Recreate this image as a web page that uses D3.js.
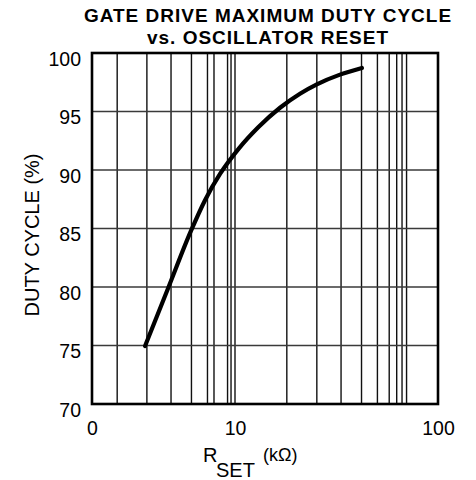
<!DOCTYPE html>
<html>
<head>
<meta charset="utf-8">
<script src="https://cdn.jsdelivr.net/npm/d3@7"></script>
<style>
  html, body { margin: 0; padding: 0; background: #fff; }
  svg { display: block; font-family: "Liberation Sans", Arial, Helvetica, sans-serif; }
</style>
</head>
<body>
<svg id="chart" width="476" height="480"></svg>
<script>
// ---- data ----
const rsetKOhm  = [2.35, 3.40, 4.92, 6.17, 7.86, 10.46, 12.98, 16.66, 20.9, 25.3, 32.9, 42.2];
const dutyCycle = [74.96, 79.87, 84.79, 87.42, 89.66, 91.85, 93.63, 95.32, 96.52, 97.32, 98.15, 98.72];
const xTickValues = [1, 10, 100];
const xTickLabels = ["0", "10", "100"];
const yTickValues = [70, 75, 80, 85, 90, 95, 100];
const xGridValues = [1.5, 2.42, 3.57, 4.96, 6.42, 7.13, 8.87, 9.38, 10,
                     18.0, 25.3, 33.3, 42.0, 50.3, 57.5, 62.6, 66.5, 70.0];
const yGridValues = [75, 80, 85, 90, 95];
const titleLines = ["GATE DRIVE MAXIMUM DUTY CYCLE", "vs. OSCILLATOR RESET"];
const yLabel = "DUTY CYCLE (%)";

// ---- layout ----
const L = 92, R = 438, T = 53, B = 404;
const svg = d3.select("#chart");

const x = d3.scaleLog().domain([1, 10, 100]).range([L, 235, R]);
const y = d3.scaleLinear().domain([70, 100]).range([B, T]);

// grid
svg.append("g").selectAll("line").data(xGridValues).join("line")
  .attr("x1", d => x(d)).attr("x2", d => x(d))
  .attr("y1", T).attr("y2", B)
  .attr("stroke", "#111").attr("stroke-width", 1.4);
svg.append("g").selectAll("line").data(yGridValues).join("line")
  .attr("x1", L).attr("x2", R)
  .attr("y1", d => y(d)).attr("y2", d => y(d))
  .attr("stroke", "#3a3a3a").attr("stroke-width", 1.6);

// border
svg.append("rect").attr("x", L).attr("y", T).attr("width", R - L).attr("height", B - T)
  .attr("fill", "none").attr("stroke", "#000").attr("stroke-width", 2.6);

// curve
const line = d3.line().x((d, i) => x(rsetKOhm[i])).y(d => y(d)).curve(d3.curveMonotoneX);
svg.append("path").datum(dutyCycle).attr("d", line)
  .attr("fill", "none").attr("stroke", "#000").attr("stroke-width", 4.2)
  .attr("stroke-linecap", "round").attr("stroke-linejoin", "round");

// axes (labels only)
const xAxis = svg.append("g").attr("transform", `translate(0,${B})`)
  .call(d3.axisBottom(x).tickValues(xTickValues).tickFormat((d, i) => xTickLabels[i]).tickSize(0));
xAxis.select(".domain").remove();
xAxis.selectAll("text").attr("y", 31).attr("dy", 0)
  .style("font-size", "19.5px").style("font-family", "Liberation Sans, Arial, sans-serif").attr("fill", "#000");

const yAxis = svg.append("g").attr("transform", `translate(${L},0)`)
  .call(d3.axisLeft(y).tickValues(yTickValues).tickSize(0).tickPadding(11));
yAxis.select(".domain").remove();
yAxis.selectAll("text").attr("dy", 0).attr("y", 12)
  .style("font-size", "19.5px").style("font-family", "Liberation Sans, Arial, sans-serif").attr("fill", "#000");

// title
svg.append("g").selectAll("text").data(titleLines).join("text")
  .attr("x", 268).attr("y", (d, i) => 21.5 + i * 22)
  .attr("text-anchor", "middle")
  .style("font-weight", "bold").style("font-size", "19px").style("letter-spacing", "1px")
  .text(d => d);

// y label
svg.append("text")
  .attr("transform", "translate(39,235) rotate(-90)")
  .attr("text-anchor", "middle")
  .style("font-size", "20px")
  .text(yLabel);

// x label
const xl = svg.append("text").attr("x", 203).attr("y", 462).style("font-size", "20px");
xl.append("tspan").text("R");
xl.append("tspan").attr("x", 216).attr("y", 477).text("SET");
xl.append("tspan").attr("x", 263).attr("y", 461).style("font-size", "18px").text("(kΩ)");
</script>
</body>
</html>
